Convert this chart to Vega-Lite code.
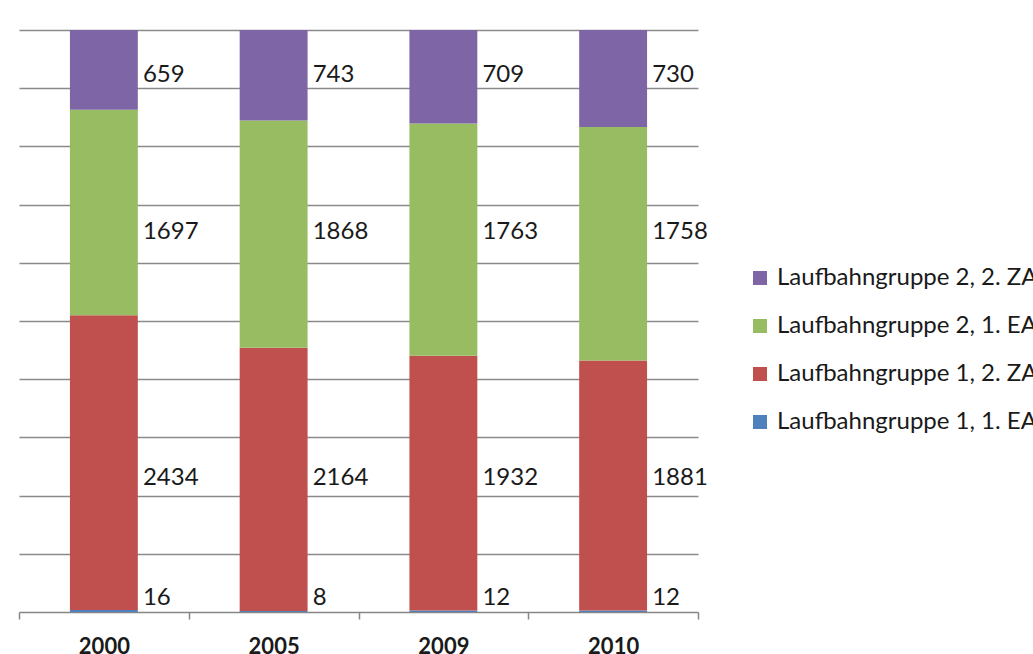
{
  "$schema": "https://vega.github.io/schema/vega-lite/v6.json",
  "width": 679,
  "height": 582,
  "autosize": {"type": "none"},
  "padding": {"left": 19, "top": 30, "right": 335, "bottom": 42},
  "background": "white",
  "config": {"view": {"stroke": null}, "font": "Lato"},
  "data": {
    "values": [
      {"Jahr": "2000", "Gruppe": "Laufbahngruppe 1, 1. EA", "Anzahl": 16},
      {"Jahr": "2000", "Gruppe": "Laufbahngruppe 1, 2. ZA", "Anzahl": 2434},
      {"Jahr": "2000", "Gruppe": "Laufbahngruppe 2, 1. EA", "Anzahl": 1697},
      {"Jahr": "2000", "Gruppe": "Laufbahngruppe 2, 2. ZA", "Anzahl": 659},
      {"Jahr": "2005", "Gruppe": "Laufbahngruppe 1, 1. EA", "Anzahl": 8},
      {"Jahr": "2005", "Gruppe": "Laufbahngruppe 1, 2. ZA", "Anzahl": 2164},
      {"Jahr": "2005", "Gruppe": "Laufbahngruppe 2, 1. EA", "Anzahl": 1868},
      {"Jahr": "2005", "Gruppe": "Laufbahngruppe 2, 2. ZA", "Anzahl": 743},
      {"Jahr": "2009", "Gruppe": "Laufbahngruppe 1, 1. EA", "Anzahl": 12},
      {"Jahr": "2009", "Gruppe": "Laufbahngruppe 1, 2. ZA", "Anzahl": 1932},
      {"Jahr": "2009", "Gruppe": "Laufbahngruppe 2, 1. EA", "Anzahl": 1763},
      {"Jahr": "2009", "Gruppe": "Laufbahngruppe 2, 2. ZA", "Anzahl": 709},
      {"Jahr": "2010", "Gruppe": "Laufbahngruppe 1, 1. EA", "Anzahl": 12},
      {"Jahr": "2010", "Gruppe": "Laufbahngruppe 1, 2. ZA", "Anzahl": 1881},
      {"Jahr": "2010", "Gruppe": "Laufbahngruppe 2, 1. EA", "Anzahl": 1758},
      {"Jahr": "2010", "Gruppe": "Laufbahngruppe 2, 2. ZA", "Anzahl": 730}
    ]
  },
  "transform": [
    {"stack": "Anzahl", "groupby": ["Jahr"], "sort": [{"field": "Gruppe", "order": "ascending"}], "as": ["y0", "y1"], "offset": "normalize"},
    {"calculate": "(datum.y0 + datum.y1) / 2", "as": "mid"},
    {"joinaggregate": [{"op": "mean", "field": "mid", "as": "meanMid"}], "groupby": ["Gruppe"]},
    {"calculate": "max(datum.meanMid, 0.024)", "as": "labelY"}
  ],
  "encoding": {
    "x": {
      "field": "Jahr",
      "type": "nominal",
      "scale": {"paddingInner": 0, "paddingOuter": 0},
      "axis": {
        "title": null,
        "labelAngle": 0,
        "labelFont": "Lato",
        "labelFontSize": 22,
        "labelFontWeight": "bold",
        "labelColor": "#1a1a1a",
        "labelPadding": 17,
        "domainColor": "#868686",
        "domainWidth": 1.5,
        "tickColor": "#868686",
        "tickWidth": 1.5,
        "tickSize": 7,
        "tickBand": "extent"
      }
    }
  },
  "layer": [
    {
      "mark": {"type": "bar", "width": {"band": 0.4}},
      "encoding": {
        "y": {
          "field": "y0",
          "type": "quantitative",
          "scale": {"domain": [0, 1], "nice": false},
          "axis": {
            "title": null,
            "labels": false,
            "ticks": false,
            "domain": false,
            "grid": true,
            "gridColor": "#8a8a8a",
            "gridWidth": 1.5,
            "values": [0.1, 0.2, 0.3, 0.4, 0.5, 0.6, 0.7, 0.8, 0.9, 1.0]
          }
        },
        "y2": {"field": "y1"},
        "color": {
          "field": "Gruppe",
          "type": "nominal",
          "scale": {
            "domain": ["Laufbahngruppe 2, 2. ZA", "Laufbahngruppe 2, 1. EA", "Laufbahngruppe 1, 2. ZA", "Laufbahngruppe 1, 1. EA"],
            "range": ["#7E66A6", "#97BC62", "#C0504D", "#4F81BD"]
          },
          "legend": {
            "title": null,
            "orient": "none",
            "legendX": 729,
            "legendY": 236,
            "symbolType": "square",
            "symbolSize": 196,
            "symbolStrokeWidth": 0,
            "labelFont": "Lato",
            "labelFontSize": 24,
            "labelColor": "#1a1a1a",
            "labelOffset": 5,
            "rowPadding": 24,
            "labelLimit": 1000
          }
        }
      }
    },
    {
      "mark": {"type": "text", "align": "left", "baseline": "middle", "dx": 39, "font": "Lato", "fontSize": 24, "color": "#1a1a1a"},
      "encoding": {
        "y": {"field": "labelY", "type": "quantitative"},
        "text": {"field": "Anzahl", "type": "quantitative"}
      }
    }
  ]
}
